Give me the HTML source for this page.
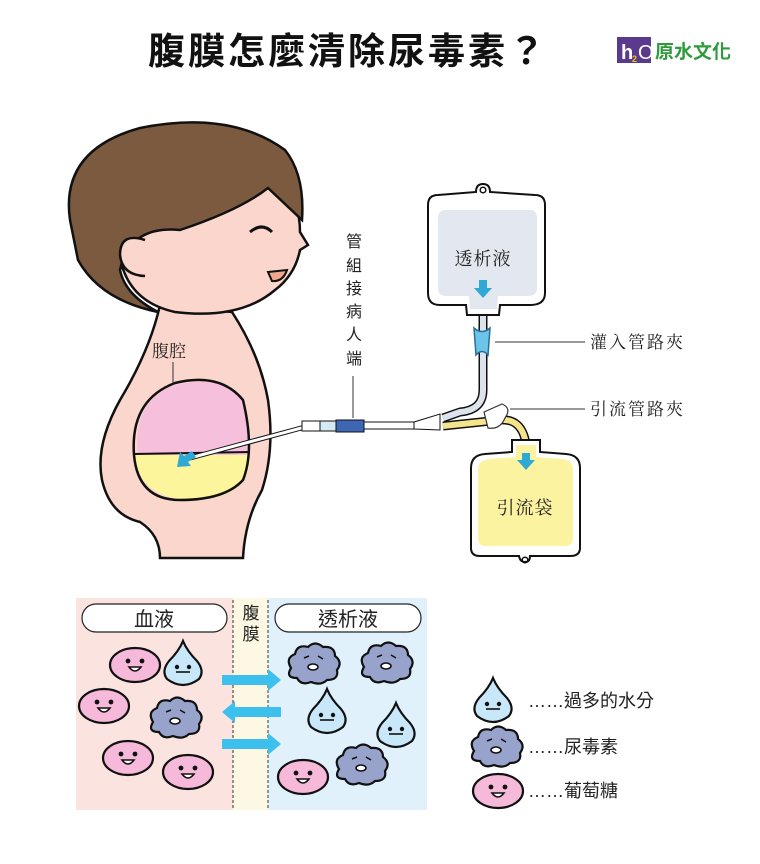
<!DOCTYPE html>
<html><head><meta charset="utf-8"><style>
html,body{margin:0;padding:0;background:#fff;}
svg{display:block;}
text{font-family:"Liberation Sans","Noto Sans CJK TC",sans-serif;}
.s{font-family:"Noto Serif CJK SC","Noto Sans CJK TC",serif;}
</style></head><body>
<svg width="760" height="864" viewBox="0 0 760 864" xmlns="http://www.w3.org/2000/svg">
<defs>
<g id="pink"><ellipse cx="0" cy="0" rx="25" ry="17" fill="#f6b9d9" stroke="#111" stroke-width="2.2"/><circle cx="-7" cy="-4" r="2.4" fill="#111"/><circle cx="7" cy="-4" r="2.4" fill="#111"/><path d="M-6 2 Q0 10 6 2 Z" fill="#fff" stroke="#111" stroke-width="1.6"/></g>
<g id="drop"><path d="M0 -24 Q4 -14 14 -4 Q22 6 16 14 Q8 20 0 20 Q-8 20 -16 14 Q-22 6 -14 -4 Q-4 -14 0 -24 Z" fill="#c8e8fa" stroke="#111" stroke-width="2.2"/><circle cx="-6" cy="2" r="2.2" fill="#111"/><circle cx="6" cy="2" r="2.2" fill="#111"/><line x1="-7" y1="7" x2="7" y2="7" stroke="#111" stroke-width="1.6"/></g>
<g id="cloud"><path d="M-22 4 Q-28 -6 -18 -10 Q-16 -20 -5 -17 Q2 -24 10 -17 Q22 -18 22 -8 Q30 -2 24 6 Q26 16 14 16 Q8 22 -2 18 Q-12 22 -16 14 Q-28 14 -22 4 Z" fill="#98a3cc" stroke="#111" stroke-width="2.2"/><path d="M-9 -6 L-4 -8 M5 -8 L10 -5" stroke="#111" stroke-width="1.5" fill="none"/><ellipse cx="0" cy="3" rx="5" ry="3" fill="#fff" stroke="#111" stroke-width="1.6"/></g>
</defs>

<text x="348" y="64" text-anchor="middle" font-size="37" font-weight="bold" fill="#111" letter-spacing="3">腹膜怎麼清除尿毒素？</text>
<rect x="617" y="37" width="34" height="26" fill="#5b3a8e"/>
<text x="621" y="59" font-size="20" fill="#fff" font-weight="bold">h</text>
<text x="632" y="62" font-size="9" fill="#f2c21b" font-weight="bold">2</text>
<text x="638" y="59" font-size="20" fill="#fff">O</text>
<text x="655" y="58" font-size="19" fill="#2f9a3c" font-weight="bold">原水文化</text>

<!-- body -->
<path d="M160 305 Q150 350 120 400 Q95 445 102 480 Q110 515 140 522 Q160 535 160 558 L243 558 Q245 520 262 490 Q275 450 268 400 Q260 355 232 312 Z" fill="#fad6cc" stroke="#111" stroke-width="2.5"/>
<!-- head face -->
<path d="M118 240 Q120 300 175 312 Q240 320 275 290 Q295 275 300 250 L308 245 L300 232 Q300 200 280 180 Q220 170 140 200 Z" fill="#fad6cc" stroke="#111" stroke-width="2.5"/>
<!-- hair -->
<path d="M70 220 Q60 150 140 128 Q230 110 285 150 Q305 175 302 220 L268 188 Q240 210 180 230 Q130 225 120 270 Q125 295 158 312 Q100 300 78 260 Z" fill="#7b5a40" stroke="#111" stroke-width="2.5"/>
<!-- ear -->
<path d="M145 240 Q120 232 120 255 Q122 275 145 276" fill="#fad6cc" stroke="#111" stroke-width="2.5"/>
<path d="M250 232 Q262 222 272 232" fill="none" stroke="#111" stroke-width="3"/>
<path d="M268 272 L287 270 Q283 282 272 281 Z" fill="#f0a58d" stroke="#111" stroke-width="2"/>
<!-- abdomen -->
<path d="M138 455 Q132 400 175 385 Q215 375 240 395 Q252 420 248 455 Z" fill="#f6bfdc"/>
<path d="M134 455 L250 455 Q252 495 200 500 Q140 502 134 455 Z" fill="#fdf59c"/>
<path d="M134 455 Q130 400 175 383 Q220 372 243 400 Q255 450 243 480 Q225 500 180 500 Q138 500 134 455 Z" fill="none" stroke="#111" stroke-width="2.5"/>
<line x1="134" y1="454" x2="250" y2="452" stroke="#111" stroke-width="2"/>
<text x="152" y="357" font-size="17" fill="#222" class="s">腹腔</text>
<line x1="173" y1="362" x2="173" y2="383" stroke="#333" stroke-width="1"/>
<!-- catheter -->
<line x1="190" y1="458" x2="305" y2="427" stroke="#111" stroke-width="5"/>
<line x1="190" y1="458" x2="305" y2="427" stroke="#fff" stroke-width="3"/>
<path d="M177 467 L180 452 L184 456 L192 451 L196 457 L188 462 L191 466 Z" fill="#2ea9d6"/>
<rect x="302" y="421" width="18" height="10" fill="#fff" stroke="#111" stroke-width="1"/>
<rect x="320" y="421" width="16" height="10" fill="#d5eaf5" stroke="#111" stroke-width="1"/>
<rect x="336" y="420" width="28" height="12" fill="#3e66b3" stroke="#111" stroke-width="1"/>
<rect x="364" y="422" width="50" height="7" fill="#fff" stroke="#111" stroke-width="1"/>
<path d="M414 422 L440 414 L440 430 L414 429 Z" fill="#fff" stroke="#111" stroke-width="1"/>
<g font-size="16" fill="#222" class="s" text-anchor="middle"><text x="354" y="247">管</text><text x="354" y="271">組</text><text x="354" y="294">接</text><text x="354" y="317">病</text><text x="354" y="340">人</text><text x="354" y="364">端</text></g>
<line x1="353" y1="376" x2="353" y2="418" stroke="#333" stroke-width="1"/>
<!-- tubes -->
<path d="M483 314 L483 390 Q483 410 460 412 L443 418" fill="none" stroke="#111" stroke-width="9"/>
<path d="M483 314 L483 390 Q483 410 460 412 L443 418" fill="none" stroke="#dde3ec" stroke-width="6"/>
<path d="M443 426 L500 420 Q522 418 526 444" fill="none" stroke="#111" stroke-width="9"/>
<path d="M443 426 L500 420 Q522 418 526 444" fill="none" stroke="#f5e58a" stroke-width="6"/>
<path d="M474 328 Q482 335 490 328 L488 355 Q482 348 476 355 Z" fill="#6cc4e8" stroke="#2a6e9a" stroke-width="1.5"/>
<path d="M484 412 L502 404 Q512 408 505 418 Q500 430 488 428 Z" fill="#fff" stroke="#333" stroke-width="1.2"/>
<line x1="495" y1="342" x2="585" y2="342" stroke="#333" stroke-width="1"/>
<line x1="510" y1="409" x2="585" y2="409" stroke="#333" stroke-width="1"/>
<text x="590" y="348" font-size="17" fill="#222" class="s" letter-spacing="2">灌入管路夾</text>
<text x="590" y="415" font-size="17" fill="#222" class="s" letter-spacing="2">引流管路夾</text>
<!-- bag1 -->
<path d="M476 192 Q476 184 483 184 Q490 184 490 192 L535 195 Q545 195 545 205 L545 293 Q545 305 530 305 L500 305 L499 315 L467 315 L466 305 L440 305 Q428 305 428 293 L428 205 Q428 195 438 195 Z" fill="#fff" stroke="#111" stroke-width="2"/>
<circle cx="483" cy="190" r="2.8" fill="none" stroke="#111" stroke-width="1.5"/>
<path d="M438 218 Q438 210 446 210 L530 210 Q537 210 537 218 L537 288 Q537 296 528 296 L498 296 L497 309 L470 309 L469 296 L446 296 Q438 296 438 288 Z" fill="#e3e7ef"/>
<text x="483" y="265" text-anchor="middle" font-size="18" fill="#222" class="s" letter-spacing="1">透析液</text>
<path d="M479 280 L487 280 L487 288 L492 288 L483 298 L474 288 L479 288 Z" fill="#2ea9d6"/>
<!-- bag2 -->
<path d="M512 440 L540 440 L540 452 L566 454 Q580 455 580 468 L580 548 Q580 556 570 556 L530 556 Q530 562 525 562 Q520 562 519 556 L480 556 Q471 556 471 548 L471 468 Q471 455 485 454 L512 452 Z" fill="#fff" stroke="#111" stroke-width="2"/>
<circle cx="525" cy="560" r="2.8" fill="none" stroke="#111" stroke-width="1.5"/>
<path d="M516 445 L536 445 L536 457 L562 459 Q573 460 573 470 L573 538 Q573 546 565 546 L486 546 Q478 546 478 538 L478 470 Q478 460 490 459 L516 457 Z" fill="#fcf3a0"/>
<path d="M522 453 L530 453 L530 460 L535 460 L526 470 L517 460 L522 460 Z" fill="#2ea9d6"/>
<text x="525" y="514" text-anchor="middle" font-size="18" fill="#222" class="s" letter-spacing="1">引流袋</text>

<!-- bottom panel -->
<rect x="76" y="598" width="157" height="212" fill="#fbe4df"/>
<rect x="233" y="598" width="35" height="212" fill="#fdf8e3"/>
<rect x="268" y="598" width="159" height="212" fill="#e1f1fb"/>
<line x1="233" y1="600" x2="233" y2="808" stroke="#333" stroke-width="1" stroke-dasharray="3,2"/>
<line x1="268" y1="600" x2="268" y2="808" stroke="#333" stroke-width="1" stroke-dasharray="3,2"/>
<rect x="82" y="604" width="145" height="28" rx="14" fill="#fff" stroke="#222" stroke-width="1.2"/>
<rect x="275" y="604" width="146" height="28" rx="14" fill="#fff" stroke="#222" stroke-width="1.2"/>
<text x="154" y="626" text-anchor="middle" font-size="20" fill="#222">血液</text>
<text x="348" y="626" text-anchor="middle" font-size="20" fill="#222">透析液</text>
<text x="251" y="619" text-anchor="middle" font-size="17" fill="#222">腹</text>
<text x="251" y="640" text-anchor="middle" font-size="17" fill="#222">膜</text>
<g fill="#3ec0ee">
<path d="M222 675 L268 675 L268 669 L281 680 L268 691 L268 685 L222 685 Z"/>
<path d="M281 707 L235 707 L235 701 L222 712 L235 723 L235 717 L281 717 Z"/>
<path d="M222 739 L268 739 L268 733 L281 744 L268 755 L268 749 L222 749 Z"/>
</g>
<use href="#pink" x="135" y="665"/>
<use href="#pink" x="104" y="706"/>
<use href="#pink" x="128" y="758"/>
<use href="#pink" x="188" y="772"/>
<use href="#pink" x="303" y="777"/>
<use href="#drop" x="183" y="665"/>
<use href="#drop" x="327" y="713"/>
<use href="#drop" x="396" y="727"/>
<use href="#cloud" x="175" y="718"/>
<use href="#cloud" x="313" y="664"/>
<use href="#cloud" x="386" y="663"/>
<use href="#cloud" x="361" y="765"/>
<!-- legend -->
<use href="#drop" x="493" y="702"/>
<use href="#cloud" x="496" y="747"/>
<use href="#pink" x="498" y="791"/>
<g font-size="18" fill="#222" class="s">
<text x="528" y="707">……過多的水分</text>
<text x="528" y="753">……尿毒素</text>
<text x="528" y="797">……葡萄糖</text>
</g>
</svg>
</body></html>
